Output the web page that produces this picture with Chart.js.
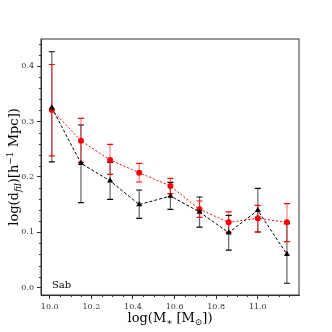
<!DOCTYPE html>
<html>
<head>
<meta charset="utf-8">
<script src="https://cdn.jsdelivr.net/npm/chart.js@4"></script>
<style>
  html, body { margin: 0; padding: 0; background: #fff; }
  #wrap { width: 332px; height: 332px; }
</style>
</head>
<body>
<div id="wrap"><canvas id="graf"></canvas></div>
<script>
// valores
const massa = [10.01, 10.15, 10.29, 10.43, 10.58, 10.72, 10.86, 11.0, 11.14];

const preto = [0.325, 0.2245, 0.193, 0.150, 0.1655, 0.1366, 0.0993, 0.1397, 0.0603];
const pretoMin = [0.227, 0.1534, 0.1596, 0.1253, 0.1415, 0.1095, 0.068, 0.1005, 0.008];
const pretoMax = [0.426, 0.2937, 0.226, 0.1764, 0.19, 0.1637, 0.1307, 0.1794, 0.1155];

const vermelho = [0.321, 0.2653, 0.2305, 0.2076, 0.1836, 0.1415, 0.118, 0.1253, 0.118];
const vermelhoMin = [0.238, 0.2263, 0.2047, 0.1908, 0.17, 0.127, 0.1, 0.1005, 0.083];
const vermelhoMax = [0.403, 0.3058, 0.2588, 0.2245, 0.1975, 0.1565, 0.137, 0.1487, 0.1516];

const xTicks = [10.0, 10.2, 10.4, 10.6, 10.8, 11.0];
const yTicks = [0.0, 0.1, 0.2, 0.3, 0.4];
const rotulo = 'Sab';

// barras de erro (desenhadas antes das linhas)
const barrasErro = {
  id: 'barrasErro',
  beforeDatasetsDraw(chart) {
    const ctx = chart.ctx, xs = chart.scales.x, ys = chart.scales.y;
    const series = [
      [pretoMin, pretoMax, 'rgba(0,0,0,0.6)', '#000'],
      [vermelhoMin, vermelhoMax, 'rgba(255,0,0,0.5)', '#f00']
    ];
    ctx.save();
    ctx.lineWidth = 1.2;
    series.forEach(function (s) {
      massa.forEach(function (m, i) {
        const x = xs.getPixelForValue(m);
        const y1 = ys.getPixelForValue(s[0][i]);
        const y2 = ys.getPixelForValue(s[1][i]);
        ctx.strokeStyle = s[2];
        ctx.beginPath();
        ctx.moveTo(x, y1); ctx.lineTo(x, y2);
        ctx.stroke();
        ctx.strokeStyle = s[3];
        ctx.beginPath();
        ctx.moveTo(x - 3, y1); ctx.lineTo(x + 3, y1);
        ctx.moveTo(x - 3, y2); ctx.lineTo(x + 3, y2);
        ctx.stroke();
      });
    });
    ctx.restore();
  }
};

// texto com sub/sobrescrito
function textoRico(ctx, partes, x, y, rot) {
  ctx.save();
  ctx.translate(x, y);
  if (rot) ctx.rotate(-Math.PI / 2);
  let total = 0;
  partes.forEach(function (p) {
    ctx.font = (p.it ? 'italic ' : '') + p.sz + 'px "DejaVu Serif"';
    p.w = ctx.measureText(p.t).width;
    total += p.w;
  });
  let cx = -total / 2;
  ctx.fillStyle = '#000';
  ctx.textBaseline = 'alphabetic';
  ctx.textAlign = 'left';
  partes.forEach(function (p) {
    ctx.font = (p.it ? 'italic ' : '') + p.sz + 'px "DejaVu Serif"';
    ctx.fillText(p.t, cx, p.dy || 0);
    cx += p.w;
  });
  ctx.restore();
}

// moldura, ticks menores e textos
const moldura = {
  id: 'moldura',
  afterDraw(chart) {
    const ctx = chart.ctx, a = chart.chartArea, xs = chart.scales.x, ys = chart.scales.y;
    ctx.save();
    ctx.strokeStyle = '#333';
    ctx.lineWidth = 1;
    ctx.strokeRect(a.left, a.top, a.right - a.left, a.bottom - a.top);
    ctx.beginPath();
    for (let k = 0; k <= 24; k++) {
      const v = 10.0 + k * 0.05;
      if (k % 4 === 0 || v > xs.max) continue;
      const px = Math.round(xs.getPixelForValue(v)) + 0.5;
      ctx.moveTo(px, a.bottom); ctx.lineTo(px, a.bottom + 2);
    }
    for (let k = -1; k <= 22; k++) {
      const v = k * 0.02;
      if (k % 5 === 0 || v < ys.min || v > ys.max) continue;
      const py = Math.round(ys.getPixelForValue(v)) + 0.5;
      ctx.moveTo(a.left, py); ctx.lineTo(a.left - 2, py);
    }
    ctx.stroke();

    ctx.fillStyle = '#000';
    ctx.font = '10px "DejaVu Serif"';
    ctx.textBaseline = 'alphabetic';
    ctx.fillText(rotulo, 52, 288);
    ctx.restore();

    textoRico(ctx, [
      {t: 'log(M', sz: 13},
      {t: '∗', sz: 9, dy: 3},
      {t: ' [M', sz: 13},
      {t: '⊙', sz: 9, dy: 3},
      {t: '])', sz: 13}
    ], (a.left + a.right) / 2, 322, false);

    textoRico(ctx, [
      {t: 'log(d', sz: 13},
      {t: 'fil', sz: 9, dy: 3, it: true},
      {t: ')[h', sz: 13},
      {t: '−1', sz: 9, dy: -5},
      {t: ' Mpc])', sz: 13}
    ], 18, (a.top + a.bottom) / 2, true);
  }
};

const fonteTick = { family: 'DejaVu Serif', size: 8 };

new Chart(document.getElementById('graf'), {
  type: 'line',
  data: {
    datasets: [{
      data: massa.map((m, i) => ({x: m, y: preto[i]})),
      borderColor: '#000',
      backgroundColor: '#000',
      borderWidth: 1,
      borderDash: [3, 2],
      pointStyle: 'triangle',
      pointRadius: 3.5,
      pointBorderWidth: 0
    }, {
      data: massa.map((m, i) => ({x: m, y: vermelho[i]})),
      borderColor: '#f00',
      backgroundColor: '#f00',
      borderWidth: 1,
      borderDash: [2, 2],
      pointStyle: 'circle',
      pointRadius: 3,
      pointBorderWidth: 0
    }]
  },
  options: {
    responsive: true,
    maintainAspectRatio: false,
    animation: false,
    layout: { padding: { top: 39, right: 33, bottom: 0, left: 0 } },
    plugins: { legend: { display: false }, tooltip: { enabled: false } },
    scales: {
      x: {
        type: 'linear',
        min: 9.958,
        max: 11.198,
        afterBuildTicks: s => { s.ticks = xTicks.map(v => ({value: v})); },
        afterFit: s => { s.height = 37; },
        grid: { drawOnChartArea: false, tickLength: 4, color: '#333' },
        border: { color: '#333' },
        ticks: { font: fonteTick, color: '#333', padding: 3, maxRotation: 0,
                 callback: v => v.toFixed(1) }
      },
      y: {
        type: 'linear',
        min: -0.0132,
        max: 0.449,
        afterBuildTicks: s => { s.ticks = yTicks.map(v => ({value: v})); },
        afterFit: s => { s.width = 41; },
        grid: { drawOnChartArea: false, tickLength: 4, color: '#333' },
        border: { color: '#333' },
        ticks: { font: fonteTick, color: '#333', padding: 3,
                 callback: v => v.toFixed(1) }
      }
    }
  },
  plugins: [barrasErro, moldura]
});
</script>
</body>
</html>
